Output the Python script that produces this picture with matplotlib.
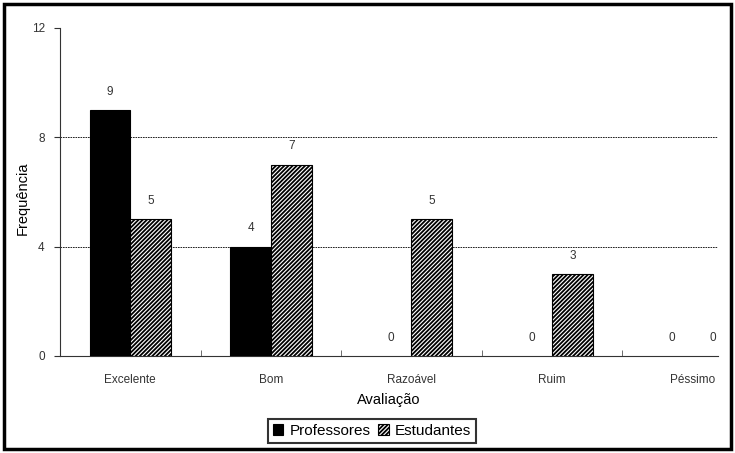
import matplotlib
matplotlib.use("Agg")
import matplotlib.pyplot as plt
from matplotlib.patches import Rectangle
import numpy as np

plt.rcParams['font.family'] = ['Liberation Sans', 'DejaVu Sans']
plt.rcParams['hatch.linewidth'] = 1.3

categories = ["Excelente", "Bom", "Razoável", "Ruim", "Péssimo"]
professores = [9, 4, 0, 0, 0]
estudantes = [5, 7, 5, 3, 0]
yticks = [0, 4, 8, 12]

fig = plt.figure(figsize=(7.35, 4.53), dpi=100)
W, H = 735, 453
ax = fig.add_axes([60 / W, 1 - 356 / H, (718 - 60) / W, (356 - 28) / H])

x = np.arange(len(categories))
bw = 0.29
b1 = ax.bar(x - bw / 2, professores, bw, color='black', edgecolor='black',
            linewidth=[0.8 if v > 0 else 0 for v in professores], label='Professores', zorder=3)
b2 = ax.bar(x + bw / 2, estudantes, bw, color='white', edgecolor='black', hatch='////////',
            linewidth=[0.8 if v > 0 else 0 for v in estudantes], label='Estudantes', zorder=3)

for bars, vals in ((b1, professores), (b2, estudantes)):
    for r, v in zip(bars, vals):
        ax.text(r.get_x() + r.get_width() / 2, v + 0.45, str(v), ha='center', va='bottom',
                fontsize=8.5, color='#333333')

ax.set_ylim(0, 12)
ax.set_xlim(-0.5, 4.18)
ax.set_yticks(yticks)
ax.set_yticklabels([str(t) for t in yticks], fontsize=8.5, color='#333333')
ax.set_xticks(x)
ax.set_xticklabels(categories, fontsize=8.5, color='#333333')
ax.set_xticks(np.arange(0.5, 4.5, 1), minor=True)
ax.tick_params(axis='x', which='major', length=0, pad=13)
ax.tick_params(axis='x', which='minor', length=4, direction='in', color='#555555')
ax.tick_params(axis='y', length=4, direction='out', pad=7, color='#333333')

for s in ['top', 'right']:
    ax.spines[s].set_visible(False)
ax.spines['left'].set_linewidth(0.8)
ax.spines['bottom'].set_linewidth(0.8)
ax.spines['left'].set_color('#333333')
ax.spines['bottom'].set_color('#333333')

for yv in [4, 8]:
    ax.axhline(yv, color='black', linestyle=(0, (2, 1)), linewidth=0.6, zorder=1)

ax.set_xlabel("Avaliação", fontsize=10.5, labelpad=5)
ax.set_ylabel("Frequência", fontsize=10.5)
ax.yaxis.set_label_coords(-0.046, 0.48)

leg = fig.legend(handles=[b1, b2], loc='center', bbox_to_anchor=(372 / W, 1 - 431 / H),
                 ncol=2, frameon=True, fancybox=False, handlelength=0.7,
                 handleheight=0.7, handletextpad=0.4, columnspacing=0.5, borderpad=0.3,
                 prop={'size': 11, 'weight': 'normal'})
leg.get_frame().set_edgecolor('black')
leg.get_frame().set_linewidth(1.5)

fig.patches.append(Rectangle((4 / W, 4 / H), (731 - 4) / W, (449 - 4) / H, transform=fig.transFigure,
                             fill=False, edgecolor='black', linewidth=2.5, figure=fig))

fig.savefig("out.png", dpi=100)
